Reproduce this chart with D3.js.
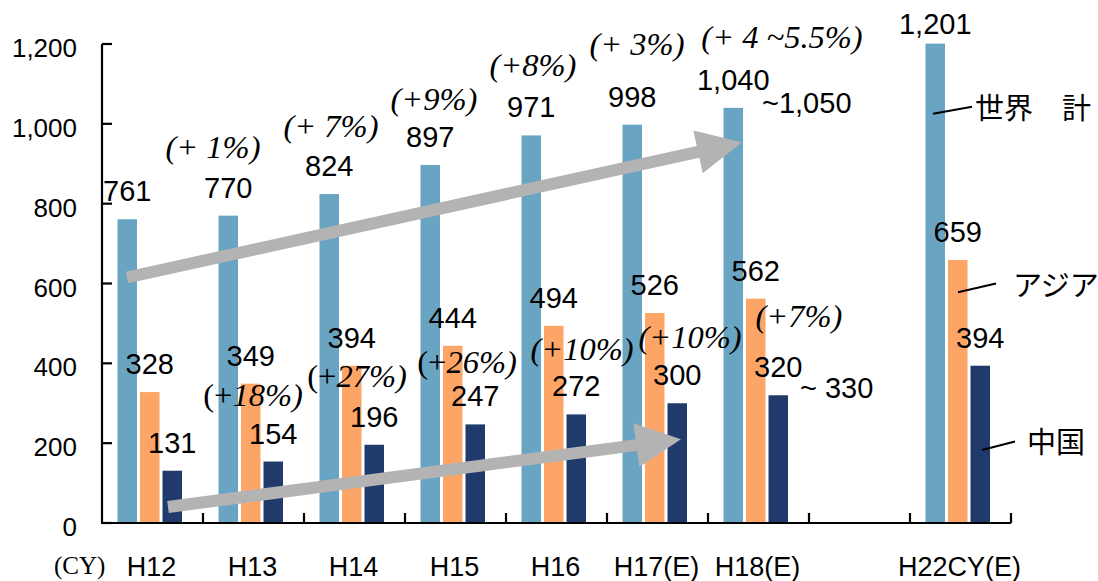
<!DOCTYPE html>
<html>
<head>
<meta charset="utf-8">
<script src="https://cdn.jsdelivr.net/npm/d3@7"></script>
<style>
  html, body { margin: 0; padding: 0; background: #fff; }
  svg { display: block; }
</style>
</head>
<body>
<svg id="chart" width="1098" height="581"></svg>
<script>
// Categories (calendar years); the blank slot leaves a gap before the H22 forecast
const categories = ["H12", "H13", "H14", "H15", "H16", "H17(E)", "H18(E)", "gap", "H22CY(E)"];
const categoryLabels = ["H12", "H13", "H14", "H15", "H16", "H17(E)", "H18(E)", "", "H22CY(E)"];

// Series values
const world = [761, 770, 824, 897, 971, 998, 1040, null, 1201];
const asia  = [328, 349, 394, 444, 494, 526, 562, null, 659];
const china = [131, 154, 196, 247, 272, 300, 320, null, 394];

// Series names (the world total is written as two words)
const seriesNames = [["世界", "計"], ["アジア"], ["中国"]];

// Value axis ticks
const yTicks = [0, 200, 400, 600, 800, 1000, 1200];

// Year-on-year growth notes
const worldGrowth = ["(+ 1%)", "(+ 7%)", "(+9%)", "(+8%)", "(+ 3%)", "(+ 4 ~5.5%)"];
const chinaGrowth = ["(+18%)", "(+27%)", "(+26%)", "(+10%)", "(+10%)", "(+7%)"];

// Range notes next to the H18 estimates
const rangeNotes = ["~1,050", "~ 330"];

const colors = ["#69a4c3", "#fda566", "#213a6c"];
const arrowGray = "#b3b3b3";

const svg = d3.select("#chart");

const x = d3.scaleBand().domain(categories).range([102, 1011]).paddingInner(0).paddingOuter(0);
const y = d3.scaleLinear().domain([0, 1200]).range([523, 44]);

// bars inside one category slot
const inner = d3.scaleBand().domain([0, 1, 2]).range([15.5, 80]).paddingInner(3 / 22.5).paddingOuter(0);

const series = [world, asia, china];

const sansFont = "'Liberation Sans', Arial, sans-serif";
const serifFont = "'Liberation Serif', 'Times New Roman', serif";
const cjkFont = "'Noto Sans CJK JP', sans-serif";

// ---- bars ----
series.forEach((vals, si) => {
  svg.append("g")
    .selectAll("rect")
    .data(vals.map((v, i) => ({ v, c: categories[i] })).filter(d => d.v != null))
    .join("rect")
    .attr("x", d => x(d.c) + inner(si))
    .attr("y", d => y(d.v))
    .attr("width", inner.bandwidth())
    .attr("height", d => y(0) - y(d.v))
    .attr("fill", colors[si]);
});

// ---- value labels above bars ----
series.forEach((vals, si) => {
  svg.append("g")
    .selectAll("text")
    .data(vals.map((v, i) => ({ v, c: categories[i] })).filter(d => d.v != null))
    .join("text")
    .attr("x", d => x(d.c) + inner(si) + inner.bandwidth() / 2)
    .attr("y", d => y(d.v) - (d.v > 1100 ? 10 : 18))
    .attr("text-anchor", "middle")
    .attr("font-family", sansFont)
    .attr("font-size", 29)
    .attr("fill", "#000")
    .text(d => d3.format(",")(d.v));
});

// ---- axes ----
const axisG = svg.append("g").attr("stroke", "#000").attr("stroke-width", 2.2);
axisG.append("line")
  .attr("x1", x.range()[0]).attr("x2", x.range()[0])
  .attr("y1", y(1200)).attr("y2", y(0));
axisG.append("line")
  .attr("x1", x.range()[0] - 1).attr("x2", x.range()[1])
  .attr("y1", y(0)).attr("y2", y(0));

// y ticks point inward
yTicks.forEach(t => {
  axisG.append("line")
    .attr("x1", x.range()[0]).attr("x2", x.range()[0] + 10)
    .attr("y1", y(t)).attr("y2", y(t));
});
svg.append("g")
  .selectAll("text")
  .data(yTicks)
  .join("text")
  .attr("x", 77)
  .attr("y", d => y(d) + 13)
  .attr("text-anchor", "end")
  .attr("font-family", sansFont)
  .attr("font-size", 26)
  .text(d => d3.format(",")(d));

// x ticks at slot boundaries, pointing up
const boundaries = categories.map(c => x(c)).concat([x.range()[1]]).slice(1);
boundaries.forEach(bx => {
  axisG.append("line")
    .attr("x1", bx).attr("x2", bx)
    .attr("y1", y(0)).attr("y2", y(0) - 10);
});

// category labels
svg.append("g")
  .selectAll("text")
  .data(categories.map((c, i) => ({ c, label: categoryLabels[i] })))
  .join("text")
  .attr("x", d => x(d.c) + x.bandwidth() / 2 - 1)
  .attr("y", 576)
  .attr("text-anchor", "middle")
  .attr("font-family", sansFont)
  .attr("font-size", 27)
  .text(d => d.label);

svg.append("text")
  .attr("x", 54).attr("y", 574)
  .attr("font-family", serifFont)
  .attr("font-size", 25)
  .text("(CY)");

// ---- trend arrows ----
function arrowPath(x0, y0, x1, y1, shaft, headLen, headWidth) {
  const dx = x1 - x0, dy = y1 - y0;
  const len = Math.hypot(dx, dy);
  const ux = dx / len, uy = dy / len;
  const nx = -uy, ny = ux;
  const bx = x1 - ux * headLen, by = y1 - uy * headLen;
  const s = shaft / 2, h = headWidth / 2;
  const pts = [
    [x0 + nx * s, y0 + ny * s],
    [bx + nx * s, by + ny * s],
    [bx + nx * h, by + ny * h],
    [x1, y1],
    [bx - nx * h, by - ny * h],
    [bx - nx * s, by - ny * s],
    [x0 - nx * s, y0 - ny * s]
  ];
  return "M" + pts.map(p => p.join(",")).join("L") + "Z";
}

const arrows = [
  { from: ["H12", 25, 615], to: ["H18(E)", 34, 954] },
  { from: ["H12", 66, 40], to: ["H17(E)", 74, 210] }
];
svg.append("g")
  .selectAll("path")
  .data(arrows)
  .join("path")
  .attr("d", d => arrowPath(
    x(d.from[0]) + d.from[1], y(d.from[2]),
    x(d.to[0]) + d.to[1], y(d.to[2]),
    12, 45, 44))
  .attr("fill", arrowGray);

// ---- growth notes (italic serif) ----
const worldGrowthPos = [[213, 158], [331, 137], [434, 110], [533, 76], [637, 55], [782, 48]];
const chinaGrowthPos = [[253, 406], [357, 387], [467, 373], [582, 360], [690, 348], [799, 327]];

function growthText(g, txt, p, uprightLead) {
  const t = g.append("text")
    .attr("x", p[0]).attr("y", p[1])
    .attr("text-anchor", "middle")
    .attr("font-family", serifFont)
    .attr("font-size", 32.5)
    .attr("fill", "#000");
  if (uprightLead) {
    t.append("tspan").text(txt.slice(0, 2));
    t.append("tspan").attr("font-style", "italic").text(txt.slice(2));
  } else {
    t.attr("font-style", "italic").text(txt);
  }
}
const gg = svg.append("g");
worldGrowth.forEach((txt, i) => growthText(gg, txt, worldGrowthPos[i], false));
chinaGrowth.forEach((txt, i) => growthText(gg, txt, chinaGrowthPos[i], i < 3));

// ---- range notes beside H18 estimates ----
svg.append("text")
  .attr("x", x("H18(E)") + 54).attr("y", 113)
  .attr("font-family", sansFont).attr("font-size", 29)
  .text(rangeNotes[0]);
svg.append("text")
  .attr("x", x("H18(E)") + 92).attr("y", 398)
  .attr("font-family", sansFont).attr("font-size", 29)
  .text(rangeNotes[1]);

// ---- series names with leader lines ----
const last = "H22CY(E)";
const leaders = [
  { s: [23, 1025], e: [62, 1043], tx: [65, 152], ty: 119 },
  { s: [48, 578],  e: [86, 600],  tx: [103], ty: 296 },
  { s: [72, 183],  e: [105, 204], tx: [117], ty: 453 }
];
const lg = svg.append("g");
leaders.forEach((l, i) => {
  lg.append("line")
    .attr("x1", x(last) + l.s[0]).attr("y1", y(l.s[1]))
    .attr("x2", x(last) + l.e[0]).attr("y2", y(l.e[1]))
    .attr("stroke", "#000").attr("stroke-width", 2);
  seriesNames[i].forEach((word, k) => {
    lg.append("text")
      .attr("x", x(last) + l.tx[k]).attr("y", l.ty)
      .attr("font-family", cjkFont)
      .attr("font-size", 29)
      .text(word);
  });
});
</script>
</body>
</html>
